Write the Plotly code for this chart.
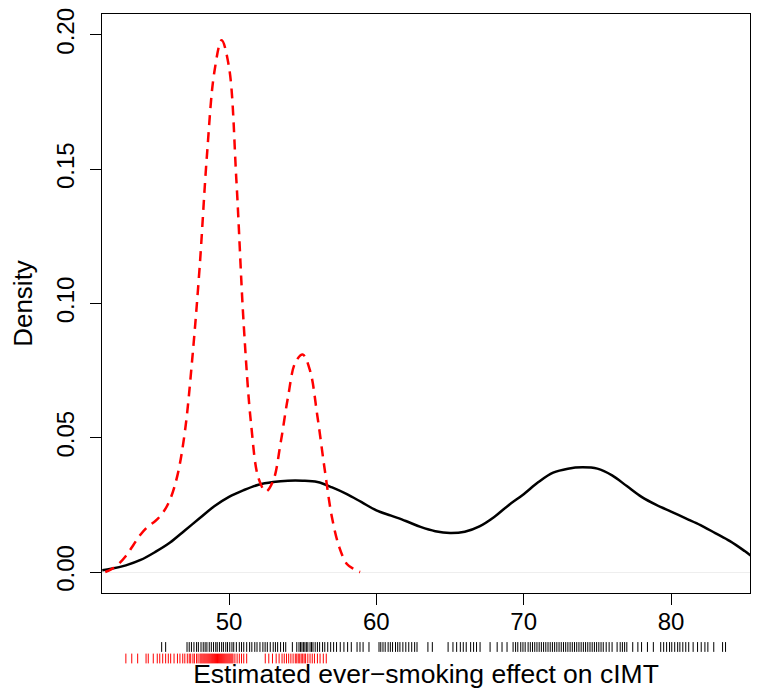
import plotly.graph_objects as go

# density curves
all_x = [41.4, 42, 43, 44, 45, 46, 47, 48, 49, 50, 51, 52, 53, 54, 55, 56, 57, 58,
         59, 60, 61, 62, 63, 64, 65, 66, 67, 68, 69, 70, 71, 72, 73, 74, 75, 76, 77,
         78, 79, 80, 81, 82, 83, 84, 85, 85.4]
all_y = [0.0007, 0.0012, 0.0025, 0.0045, 0.0075, 0.011, 0.0155, 0.020, 0.0245, 0.028,
         0.0305, 0.0325, 0.0335, 0.034, 0.034, 0.0335, 0.0315, 0.029, 0.026, 0.023,
         0.021, 0.019, 0.0168, 0.0152, 0.0145, 0.015, 0.017, 0.0205, 0.025, 0.029,
         0.0335, 0.037, 0.0385, 0.039, 0.0385, 0.036, 0.032, 0.028, 0.025, 0.0225,
         0.020, 0.0175, 0.0145, 0.0115, 0.0078, 0.0062]

smk_x = [41.6, 42, 42.5, 43, 43.5, 44, 44.5, 45, 45.5, 46, 46.5, 47, 47.5, 48, 48.5,
         49, 49.5, 50, 50.5, 51, 51.5, 52, 52.5, 53, 53.5, 54, 54.5, 55, 55.5, 56,
         56.5, 57, 57.5, 58, 58.5, 58.9]
smk_y = [0.000, 0.001, 0.003, 0.006, 0.010, 0.014, 0.017, 0.019, 0.022, 0.027, 0.036,
         0.052, 0.079, 0.113, 0.155, 0.186, 0.198, 0.188, 0.146, 0.092, 0.055, 0.035,
         0.030, 0.034, 0.048, 0.065, 0.078, 0.081, 0.075, 0.058, 0.038, 0.020, 0.009,
         0.003, 0.001, 0.000]

# rug values
rug_all = [45.43, 45.70,
           47.15, 47.3, 47.45, 47.62, 47.8, 47.92, 48.1, 48.25, 48.38, 48.5, 48.66, 48.8,
           48.95, 49.1, 49.2, 49.35, 49.5, 49.62, 49.78, 49.9, 50.05, 50.2, 50.32, 50.5,
           50.7, 50.85, 51.0, 51.2, 51.4, 51.55, 51.75, 51.9, 52.1, 52.3, 52.45, 52.6,
           52.8, 53.0, 53.15, 53.3, 53.5, 53.7, 53.85, 54.3, 54.6, 54.75, 54.85, 54.95,
           55.05, 55.15, 55.25, 55.35, 55.5, 55.6, 55.7, 55.85, 56.0, 56.15, 56.35, 56.5,
           56.7, 56.9, 57.1, 57.3, 57.55, 57.8, 58.05, 58.3,
           58.69, 58.89, 59.1, 59.5,
           60.18, 60.3, 60.45, 60.6, 60.8, 60.95, 61.1, 61.3, 61.45, 61.6, 61.8, 62.0,
           62.2, 62.4, 62.6, 62.76,
           63.5, 63.8, 64.87,
           65.2, 65.45, 65.7, 65.9, 66.1, 66.4, 66.6, 66.8, 67.04,
           67.72, 68.2, 68.53, 68.87,
           69.28, 69.45, 69.6, 69.8, 69.95, 70.1, 70.3, 70.45, 70.6, 70.75, 70.9, 71.05,
           71.2, 71.35, 71.5, 71.65, 71.8, 71.95, 72.1, 72.25, 72.4, 72.55, 72.7, 72.85,
           73.0, 73.15, 73.3, 73.45, 73.6, 73.75, 73.9, 74.05, 74.2, 74.35, 74.5, 74.65,
           74.8, 74.95, 75.1, 75.25, 75.4, 75.6, 75.8, 76.0,
           76.34, 76.55, 76.7, 76.85, 77.0, 77.4, 77.75, 78.0, 78.4, 78.8,
           79.3, 79.5, 79.7, 79.9, 80.05, 80.25, 80.45, 80.6, 80.8, 81.0, 81.2, 81.5,
           81.8, 82.05, 82.3, 82.5, 82.9, 83.5, 83.7]

rug_smk = [43.0, 43.4, 43.8, 44.37, 44.52, 44.86, 45.13, 45.3, 45.5, 45.7, 45.88, 46.04,
           46.27, 46.5, 46.67, 46.86, 47.0,
           47.17, 47.3, 47.4, 47.55, 47.65, 47.8, 47.9,
           48.03, 48.1, 48.17, 48.24, 48.31, 48.38, 48.45, 48.52, 48.59, 48.66, 48.73,
           48.8, 48.87, 48.94, 49.01, 49.08, 49.15, 49.22, 49.29, 49.36, 49.43, 49.5,
           49.57, 49.64, 49.71, 49.78, 49.85, 49.92, 49.99, 50.06, 50.13, 50.2, 50.27,
           50.4, 50.55, 50.7, 50.85, 51.0, 51.2,
           52.46, 52.7, 52.95, 53.2, 53.4, 53.6, 53.75, 53.9, 54.05, 54.2, 54.35, 54.5,
           54.6, 54.7, 54.8, 54.9, 55.0, 55.1, 55.2, 55.35, 55.5, 55.65, 55.8, 56.0,
           56.18, 56.4, 56.6]

x_ticks = [50, 60, 70, 80]
y_ticks = [0.00, 0.05, 0.10, 0.15, 0.20]

font = dict(family="Liberation Sans, Arial, sans-serif", size=24, color="black")

fig = go.Figure()
fig.add_trace(go.Scatter(x=all_x, y=all_y, mode="lines", line_shape="spline",
                         line=dict(color="black", width=2.5)))
fig.add_trace(go.Scatter(x=smk_x, y=smk_y, mode="lines", line_shape="spline",
                         line=dict(color="#ff0000", width=2.5, dash="10px,7px")))
# rugs under the axis
fig.add_trace(go.Scatter(x=rug_all, y=[15] * len(rug_all), mode="markers",
                         xaxis="x2", yaxis="y2", cliponaxis=False,
                         marker=dict(symbol="line-ns-open", size=7, color="black",
                                     line=dict(color="black", width=1))))
fig.add_trace(go.Scatter(x=rug_smk, y=[3.5] * len(rug_smk), mode="markers",
                         xaxis="x2", yaxis="y2", cliponaxis=False,
                         marker=dict(symbol="line-ns-open", size=7, color="#ff0000",
                                     line=dict(color="#ff0000", width=1))))

# page body has an 8px margin, so the figure is a bit smaller and shifted
fig.update_layout(
    width=754, height=689,
    margin=dict(l=94, r=12, t=6, b=35),
    plot_bgcolor="white", paper_bgcolor="white",
    showlegend=False,
    font=font,
    xaxis=dict(range=[41.38, 85.36], anchor="y", tickmode="array", tickvals=x_ticks,
               showline=True, mirror=True, linecolor="black", linewidth=1,
               ticks="outside", ticklen=11, tickcolor="black", showgrid=False,
               zeroline=False, automargin=False, tickfont=dict(size=24),
               ticklabelstandoff=-4, ticklabeloverflow="allow",
               title=dict(text="Estimated ever\u2212smoking effect on cIMT", standoff=30,
                          font=dict(size=26.5))),
    yaxis=dict(domain=[0.1065, 1], range=[-0.0078, 0.2078], tickmode="array",
               tickvals=y_ticks, tickformat=".2f", tickangle=-90,
               showline=True, mirror=True, linecolor="black", linewidth=1,
               ticks="outside", ticklen=11, tickcolor="black", showgrid=False,
               zeroline=True, zerolinecolor="#eeeeee", zerolinewidth=1,
               automargin=False, tickfont=dict(size=24), ticklabelstandoff=6,
               ticklabeloverflow="allow",
               title=dict(text="Density", standoff=12, font=dict(size=26))),
    xaxis2=dict(matches="x", anchor="y2", visible=False),
    yaxis2=dict(domain=[0, 0.0278], range=[0, 18], visible=False),
)

fig.write_html("out.html")
